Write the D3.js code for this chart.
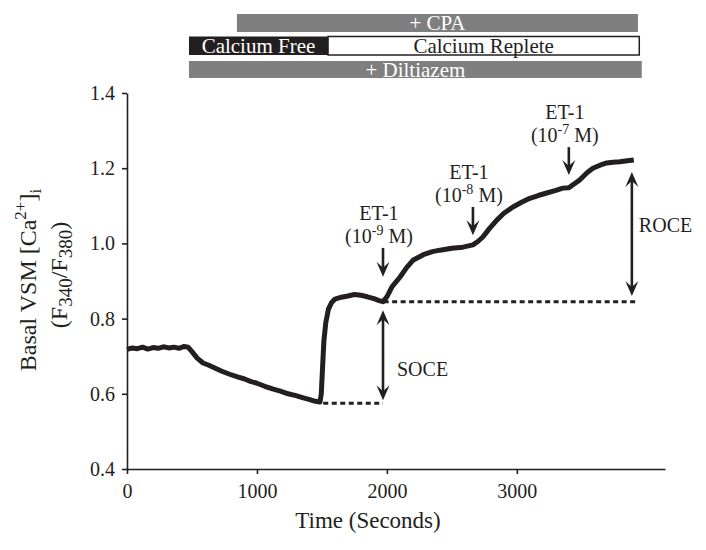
<!DOCTYPE html>
<html><head><meta charset="utf-8">
<script src="https://cdn.jsdelivr.net/npm/d3@7"></script>
<style>
body{margin:0;background:#fff}
svg, svg text, svg tspan{font-family:'Liberation Serif','Times New Roman',Times,'DejaVu Serif',serif !important;}
svg text{fill:#231f20}
</style></head><body><svg id="c" width="706" height="550"></svg>
<script>
// ---- data ----
const traceTime = [0,40,80,120,160,200,240,280,320,360,400,440,470,500,540,585,630,680,730,790,850,900,950,1000,1060,1120,1180,1240,1300,1350,1400,1450,1485,1495,1505,1515,1530,1550,1575,1600,1650,1700,1750,1800,1850,1900,1940,1970,2000,2040,2100,2150,2200,2280,2350,2408,2500,2585,2662,2700,2738,2790,2846,2900,2970,3040,3100,3170,3230,3300,3354,3400,3440,3485,3540,3585,3640,3692,3740,3792,3850,3900];
const traceRatio = [0.718,0.722,0.72,0.724,0.719,0.723,0.721,0.725,0.722,0.724,0.721,0.726,0.724,0.712,0.695,0.682,0.676,0.668,0.66,0.652,0.645,0.64,0.633,0.628,0.62,0.613,0.607,0.6,0.595,0.59,0.585,0.58,0.578,0.6,0.67,0.74,0.79,0.825,0.843,0.852,0.857,0.86,0.864,0.862,0.858,0.853,0.848,0.845,0.858,0.885,0.91,0.935,0.955,0.97,0.978,0.982,0.987,0.99,0.996,1.005,1.017,1.04,1.062,1.08,1.097,1.11,1.12,1.128,1.134,1.141,1.147,1.148,1.158,1.169,1.188,1.2,1.208,1.214,1.216,1.217,1.22,1.222];
const xTicks = [0,1000,2000,3000];
const yTicks = [0.4,0.6,0.8,1.0,1.2,1.4];
const barLabels = ["+ CPA","Calcium Free","Calcium Replete","+ Diltiazem"];
const barStart = [846,477,1547,477];
const barEnd = [3932,1547,3942,3961];
const etTimes = [1970,2662,3400];
const etExp = ["-9","-8","-7"];
const etArrowTop = [0.988,1.097,1.256];
const etArrowTip = [0.911,1.022,1.182];
const soceTime = 1970, soceLow = 0.583, soceHigh = 0.822;
const roceTime = 3885, roceLow = 0.86, roceHigh = 1.19;
const baselineFree = {t0:1510, t1:1970, v:0.575};
const baselineSoce = {t0:1975, t1:3920, v:0.845};

// ---- layout ----
const FONT = "'Liberation Serif','Times New Roman',Times,'DejaVu Serif',serif";
const svg = d3.select("#c").style("font-family",FONT);
const x = d3.scaleLinear().domain([0,4140]).range([127,665]);
const y = d3.scaleLinear().domain([0.4,1.4]).range([469,93]);
const ink = "#231f20";

// axes
const gx = svg.append("g").attr("transform","translate(0,469)")
  .call(d3.axisBottom(x).tickValues(xTicks).tickFormat(d3.format("d")).tickSize(5).tickSizeOuter(0).tickPadding(10));
const gy = svg.append("g").attr("transform","translate(127,0)")
  .call(d3.axisLeft(y).tickValues(yTicks).tickFormat(d3.format(".1f")).tickSize(5).tickSizeOuter(0).tickPadding(7));
[gx,gy].forEach(g=>{
  g.attr("font-family",FONT);
  g.selectAll("path,line").attr("stroke",ink).attr("stroke-width",1.6);
  g.selectAll("text").attr("font-size",20).style("font-family",FONT).attr("fill",ink);
});

// axis titles
svg.append("text").attr("x",368).attr("y",528).attr("text-anchor","middle").attr("font-size",23).text("Time (Seconds)");
const yl1 = svg.append("text").attr("transform","translate(36,280) rotate(-90)").attr("text-anchor","middle").attr("font-size",24);
yl1.append("tspan").text("Basal VSM [Ca");
yl1.append("tspan").attr("font-size",17).attr("dy",-10).text("2+");
yl1.append("tspan").attr("dy",10).text("]");
yl1.append("tspan").attr("font-size",17).attr("dy",5).text("i");
const yl2 = svg.append("text").attr("transform","translate(67,275) rotate(-90)").attr("text-anchor","middle").attr("font-size",24);
yl2.append("tspan").text("(F");
yl2.append("tspan").attr("font-size",19).attr("dy",5).text("340");
yl2.append("tspan").attr("dy",-5).text("/F");
yl2.append("tspan").attr("font-size",19).attr("dy",5).text("380");
yl2.append("tspan").attr("dy",-5).text(")");

// treatment bars
const barRow = [14,36.5,36.5,61];
const barH = [18,18.5,18.5,17];
const barFill = ["#7f7f7f",ink,"#ffffff","#7f7f7f"];
const barText = ["#ffffff","#ffffff",ink,"#ffffff"];
barLabels.forEach((lab,i)=>{
  const x0 = x(barStart[i]), x1 = x(barEnd[i]);
  svg.append("rect").attr("x",x0).attr("y",barRow[i]).attr("width",x1-x0).attr("height",barH[i])
    .attr("fill",barFill[i]).attr("stroke",i===2?ink:"none").attr("stroke-width",1.5);
  svg.append("text").attr("x",(x0+x1)/2).attr("y",barRow[i]+barH[i]/2+7).attr("text-anchor","middle")
    .attr("font-size",21).style("fill",barText[i]).text(lab);
});

// dotted baselines
[baselineFree,baselineSoce].forEach(b=>{
  svg.append("line").attr("x1",x(b.t0)).attr("x2",x(b.t1)).attr("y1",y(b.v)).attr("y2",y(b.v))
    .attr("stroke",ink).attr("stroke-width",3).attr("stroke-dasharray","5,3.5");
});

// trace
const pts = traceTime.map((t,i)=>[t,traceRatio[i]]);
svg.append("path").datum(pts).attr("fill","none").attr("stroke",ink).attr("stroke-width",5)
  .attr("stroke-linejoin","round")
  .attr("d",d3.line().x(d=>x(d[0])).y(d=>y(d[1])));

// arrows
function head(px,py,dir){
  const L=15,W=6.5,N=9;
  return `M${px},${py} L${px-W},${py-dir*L} L${px},${py-dir*N} L${px+W},${py-dir*L} Z`;
}
function arrow(t,v0,v1,both){
  const px=x(t), pTop=y(v0), pBot=y(v1);
  svg.append("line").attr("x1",px).attr("x2",px).attr("y1",pTop+(both?8:0)).attr("y2",pBot-8)
    .attr("stroke",ink).attr("stroke-width",2.6);
  svg.append("path").attr("d",head(px,pBot,1)).attr("fill",ink);
  if(both) svg.append("path").attr("d",head(px,pTop,-1)).attr("fill",ink);
}
etTimes.forEach((t,i)=>{
  arrow(t,etArrowTop[i],etArrowTip[i],false);
  const px = x(t)-4, top = y(etArrowTop[i]);
  svg.append("text").attr("x",px).attr("y",top-28).attr("text-anchor","middle").attr("font-size",20).text("ET-1");
  const l2 = svg.append("text").attr("x",px).attr("y",top-5).attr("text-anchor","middle").attr("font-size",20);
  l2.append("tspan").text("(10");
  l2.append("tspan").attr("font-size",14).attr("dy",-8).text(etExp[i]);
  l2.append("tspan").attr("dy",8).text(" M)");
});
arrow(soceTime,soceHigh,soceLow,true);
arrow(roceTime,roceHigh,roceLow,true);
svg.append("text").attr("x",x(soceTime)+14).attr("y",376).attr("font-size",20).text("SOCE");
svg.append("text").attr("x",x(roceTime)+7).attr("y",232).attr("font-size",20).text("ROCE");
</script></body></html>
